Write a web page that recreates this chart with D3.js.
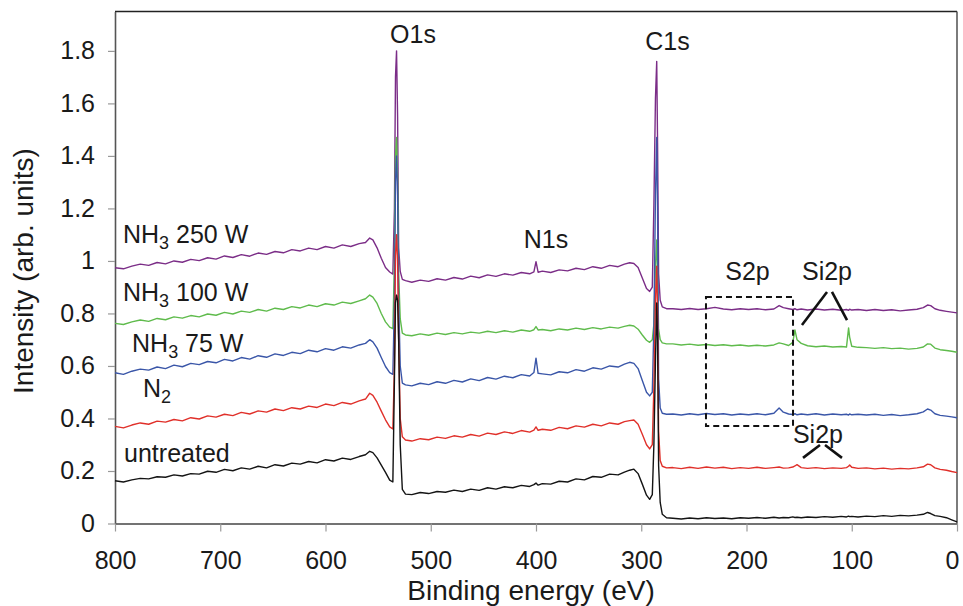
<!DOCTYPE html>
<html>
<head>
<meta charset="utf-8">
<script src="https://cdn.jsdelivr.net/npm/d3@7"></script>
<style>
  html, body { margin: 0; padding: 0; background: #fff; }
  svg { display: block; }
  text { font-family: "Liberation Sans", Arial, Helvetica, sans-serif; fill: #1a1a1a; }
</style>
</head>
<body>
<svg id="chart" width="963" height="606"></svg>
<script>
// ---------------- DATA ----------------
const energy = [
  800,792,784,776,768,760,752,744,736,728,
  720,712,704,696,688,680,672,664,656,648,
  640,632,624,616,608,600,592,584,576,568,
  562,558,555,551,547,543,539,536,534.5,533.5,
  532.5,531.5,530.5,529,527,524,518,510,502,494,
  486,478,470,462,454,446,438,430,422,414,
  406,402,400,398,394,386,378,370,362,354,
  346,338,330,322,316,311,307,303,299,295,
  292,289.5,288,286.5,285.3,284.5,283.5,282,280,276,
  270,262,254,246,238,230,222,214,206,198,
  190,182,174,169,165,160,156,154,152,148,
  142,134,126,118,110,105,103,102,100,94,
  86,78,70,62,54,46,38,32,28,25,
  21,16,10,5,0
];

const untreated = [
  0.163,0.158,0.166,0.172,0.170,0.178,0.176,0.185,0.181,0.190,
  0.188,0.199,0.195,0.206,0.201,0.212,0.207,0.218,0.212,0.224,
  0.219,0.230,0.226,0.236,0.231,0.243,0.238,0.249,0.244,0.255,
  0.262,0.275,0.270,0.250,0.222,0.195,0.165,0.158,0.55,0.84,
  0.87,0.85,0.70,0.30,0.13,0.112,0.110,0.118,0.114,0.122,
  0.119,0.127,0.122,0.131,0.126,0.136,0.131,0.140,0.136,0.145,
  0.141,0.148,0.154,0.146,0.152,0.150,0.161,0.158,0.170,0.166,
  0.179,0.176,0.188,0.185,0.196,0.203,0.207,0.190,0.150,0.108,
  0.092,0.110,0.30,0.62,0.84,0.70,0.22,0.08,0.035,0.022,
  0.020,0.017,0.021,0.018,0.022,0.019,0.021,0.018,0.022,0.020,
  0.023,0.020,0.024,0.021,0.023,0.022,0.025,0.023,0.024,0.022,
  0.025,0.023,0.026,0.024,0.027,0.025,0.028,0.026,0.027,0.025,
  0.028,0.026,0.030,0.027,0.031,0.029,0.032,0.035,0.042,0.038,
  0.030,0.027,0.022,0.014,0.006
];

const n2 = [
  0.370,0.364,0.375,0.383,0.378,0.390,0.386,0.396,0.391,0.403,
  0.398,0.410,0.405,0.416,0.411,0.423,0.417,0.429,0.424,0.436,
  0.430,0.441,0.436,0.447,0.442,0.455,0.449,0.461,0.455,0.467,
  0.474,0.496,0.488,0.462,0.428,0.395,0.368,0.360,0.60,1.02,
  1.10,1.00,0.70,0.40,0.33,0.318,0.314,0.323,0.319,0.329,
  0.324,0.334,0.329,0.339,0.333,0.344,0.339,0.349,0.343,0.354,
  0.348,0.356,0.368,0.355,0.359,0.355,0.366,0.361,0.372,0.367,
  0.378,0.372,0.383,0.378,0.388,0.392,0.394,0.378,0.340,0.300,
  0.284,0.300,0.52,0.85,0.98,0.80,0.35,0.24,0.218,0.212,
  0.213,0.209,0.214,0.210,0.215,0.211,0.214,0.209,0.213,0.210,
  0.214,0.210,0.213,0.215,0.211,0.212,0.215,0.219,0.224,0.213,
  0.210,0.213,0.209,0.212,0.210,0.213,0.218,0.223,0.214,0.210,
  0.212,0.208,0.211,0.207,0.210,0.208,0.212,0.216,0.226,0.224,
  0.212,0.206,0.203,0.198,0.194
];

const nh3_75 = [
  0.574,0.568,0.580,0.588,0.584,0.596,0.590,0.603,0.597,0.610,
  0.605,0.617,0.612,0.625,0.619,0.632,0.626,0.639,0.633,0.646,
  0.640,0.652,0.647,0.660,0.654,0.666,0.660,0.673,0.668,0.680,
  0.686,0.700,0.692,0.668,0.632,0.598,0.575,0.568,0.85,1.30,
  1.40,1.25,0.85,0.60,0.535,0.528,0.524,0.534,0.529,0.540,
  0.534,0.545,0.539,0.551,0.544,0.556,0.550,0.561,0.555,0.567,
  0.562,0.575,0.630,0.572,0.570,0.566,0.578,0.574,0.586,0.580,
  0.593,0.588,0.600,0.596,0.607,0.614,0.610,0.590,0.545,0.500,
  0.486,0.500,0.75,1.25,1.47,1.20,0.55,0.44,0.420,0.416,
  0.417,0.413,0.418,0.414,0.419,0.415,0.418,0.413,0.417,0.414,
  0.418,0.414,0.420,0.440,0.424,0.417,0.415,0.418,0.414,0.417,
  0.414,0.418,0.413,0.417,0.414,0.416,0.413,0.417,0.414,0.416,
  0.413,0.416,0.412,0.415,0.411,0.414,0.418,0.425,0.436,0.432,
  0.418,0.412,0.409,0.406,0.403
];

const nh3_100 = [
  0.762,0.758,0.768,0.775,0.770,0.781,0.776,0.787,0.782,0.792,
  0.787,0.798,0.793,0.804,0.798,0.809,0.804,0.815,0.809,0.820,
  0.815,0.826,0.821,0.832,0.826,0.837,0.832,0.843,0.838,0.848,
  0.856,0.870,0.862,0.838,0.800,0.768,0.748,0.742,1.00,1.40,
  1.47,1.32,0.95,0.78,0.725,0.718,0.715,0.722,0.717,0.725,
  0.720,0.727,0.722,0.729,0.725,0.732,0.727,0.734,0.729,0.737,
  0.732,0.738,0.750,0.737,0.739,0.734,0.741,0.737,0.744,0.739,
  0.746,0.741,0.748,0.744,0.751,0.755,0.752,0.740,0.718,0.698,
  0.690,0.700,0.76,0.98,1.08,0.95,0.74,0.70,0.688,0.684,
  0.684,0.680,0.683,0.679,0.682,0.678,0.681,0.677,0.680,0.676,
  0.679,0.676,0.680,0.688,0.684,0.678,0.690,0.737,0.700,0.686,
  0.677,0.673,0.676,0.672,0.674,0.672,0.745,0.710,0.675,0.671,
  0.670,0.667,0.670,0.666,0.668,0.664,0.667,0.672,0.684,0.683,
  0.668,0.662,0.659,0.656,0.652
];

const nh3_250 = [
  0.974,0.970,0.980,0.988,0.983,0.994,0.989,1.000,0.995,1.006,
  1.001,1.012,1.007,1.019,1.013,1.024,1.018,1.030,1.025,1.036,
  1.031,1.043,1.038,1.049,1.043,1.055,1.049,1.061,1.055,1.066,
  1.070,1.087,1.080,1.050,1.010,0.975,0.958,0.950,1.20,1.70,
  1.80,1.55,1.05,0.96,0.930,0.925,0.919,0.927,0.922,0.932,
  0.927,0.937,0.931,0.942,0.936,0.947,0.941,0.951,0.946,0.956,
  0.951,0.958,0.997,0.957,0.961,0.956,0.966,0.962,0.972,0.967,
  0.978,0.972,0.983,0.978,0.988,0.993,0.990,0.975,0.935,0.895,
  0.884,0.900,1.21,1.62,1.76,1.45,0.95,0.85,0.825,0.818,
  0.818,0.815,0.819,0.815,0.818,0.823,0.817,0.814,0.818,0.815,
  0.818,0.814,0.817,0.830,0.822,0.818,0.815,0.818,0.814,0.817,
  0.813,0.817,0.813,0.816,0.812,0.815,0.812,0.816,0.813,0.815,
  0.811,0.815,0.811,0.814,0.810,0.813,0.816,0.822,0.832,0.830,
  0.818,0.812,0.808,0.805,0.802
];

// draw order: first drawn is at the back
const seriesNames  = ["NH3 250 W", "NH3 100 W", "NH3 75 W", "N2", "untreated"];
const seriesValues = [nh3_250, nh3_100, nh3_75, n2, untreated];
const seriesColors = ["#7b2d87", "#5fbb4c", "#3a56a8", "#e0302a", "#141414"];

// series labels: [main, subscript, rest, energy position, intensity of baseline]
const labelParts = [
  ["NH", "3", " 250 W", 792.4, 1.069],
  ["NH", "3", " 100 W", 792.4, 0.848],
  ["NH", "3", " 75 W", 783.8, 0.653],
  ["N", "2", "", 773.4, 0.482],
  ["untreated", "", "", 791.4, 0.234]
];

// peak annotations [text, energy (center), intensity (baseline)]
const peakLabels = [
  ["O1s", 516.9, 1.830],
  ["C1s", 275.1, 1.804],
  ["N1s", 390.5, 1.050],
  ["S2p", 199.1, 0.928],
  ["Si2p", 123.5, 0.928],
  ["Si2p", 132.1, 0.307]
];
// pointer segments [E1, I1, E2, I2]
const pointerLines = [
  [123.5, 0.882, 147.3, 0.756],
  [118.8, 0.882, 104.5, 0.775],
  [130.2, 0.299, 146.3, 0.250],
  [125.4, 0.299, 109.3, 0.250]
];
// dashed S2p box [E left, E right, I top, I bottom]
const s2pBox = [238.5, 155.8, 0.863, 0.371];

const xTicks = [800, 700, 600, 500, 400, 300, 200, 100, 0];
const yTicks = [0, 0.2, 0.4, 0.6, 0.8, 1, 1.2, 1.4, 1.6, 1.8];
const xTitle = "Binding energy (eV)";
const yTitle = "Intensity (arb. units)";

// ---------------- CHART ----------------
const svg = d3.select("#chart");
svg.append("rect").attr("width", 963).attr("height", 606).attr("fill", "#fff");

const x = d3.scaleLinear().domain([800, 0]).range([115, 957]);
const y = d3.scaleLinear().domain([0, 1.95]).range([523.5, 11.5]);

// frame (top & right)
svg.append("line").attr("x1", x(800)).attr("x2", x(0)).attr("y1", y(1.95)).attr("y2", y(1.95))
  .attr("stroke", "#222").attr("stroke-width", 1.6);
svg.append("line").attr("x1", x(0)).attr("x2", x(0)).attr("y1", y(1.95)).attr("y2", y(0))
  .attr("stroke", "#444").attr("stroke-width", 1.4);

// axes
const yAxis = svg.append("g").attr("transform", `translate(${x(800)},0)`)
  .call(d3.axisLeft(y).tickValues(yTicks).tickSize(7).tickSizeOuter(0).tickPadding(13)
        .tickFormat(d3.format(".1~f")));
yAxis.select(".domain").attr("stroke", "#555").attr("stroke-width", 1.6);
yAxis.selectAll(".tick line").attr("stroke", "#999").attr("stroke-width", 1.2);
yAxis.selectAll(".tick text").attr("font-size", 25).attr("fill", "#1a1a1a")
  .attr("font-family", "Liberation Sans, Arial, sans-serif");

const xAxis = svg.append("g").attr("transform", `translate(0,${y(0)})`)
  .call(d3.axisBottom(x).tickValues(xTicks).tickSize(8).tickSizeOuter(0));
xAxis.select(".domain").attr("stroke", "#444").attr("stroke-width", 1.6);
xAxis.selectAll(".tick line").attr("stroke", "#999").attr("stroke-width", 1.2);
xAxis.selectAll(".tick text").attr("font-size", 25).attr("fill", "#1a1a1a")
  .attr("dy", null).attr("y", 45.5)
  .attr("dx", (d) => (d === 0 ? -5 : 0))
  .attr("font-family", "Liberation Sans, Arial, sans-serif");

// axis titles
svg.append("text").attr("x", 531).attr("y", 600).attr("text-anchor", "middle")
  .attr("font-size", 28).text(xTitle);
svg.append("text").attr("transform", "translate(33,271) rotate(-90)")
  .attr("text-anchor", "middle").attr("font-size", 28).text(yTitle);

// spectra
const line = d3.line().x((d) => x(d[0])).y((d) => y(d[1]));
seriesValues.forEach((vals, i) => {
  const pts = energy.map((e, j) => [e, vals[j]]);
  svg.append("path").datum(pts)
    .attr("d", line)
    .attr("fill", "none")
    .attr("stroke", seriesColors[i])
    .attr("stroke-width", 1.4)
    .attr("stroke-linejoin", "round")
    .attr("class", "series")
    .attr("data-name", seriesNames[i]);
});

// series labels
labelParts.forEach((p) => {
  const t = svg.append("text").attr("x", x(p[3])).attr("y", y(p[4])).attr("font-size", 25);
  t.append("tspan").text(p[0]);
  if (p[1]) {
    t.append("tspan").attr("dy", 6).attr("font-size", 18).text(p[1]);
    if (p[2]) t.append("tspan").attr("dy", -6).text(p[2]);
  }
});

// peak labels
peakLabels.forEach((p) => {
  svg.append("text").attr("x", x(p[1])).attr("y", y(p[2])).attr("text-anchor", "middle")
    .attr("font-size", 25).text(p[0]);
});

pointerLines.forEach((l) => {
  svg.append("line").attr("x1", x(l[0])).attr("y1", y(l[1])).attr("x2", x(l[2])).attr("y2", y(l[3]))
    .attr("stroke", "#111").attr("stroke-width", 2.6);
});

svg.append("rect")
  .attr("x", x(s2pBox[0])).attr("y", y(s2pBox[2]))
  .attr("width", x(s2pBox[1]) - x(s2pBox[0])).attr("height", y(s2pBox[3]) - y(s2pBox[2]))
  .attr("fill", "none").attr("stroke", "#111").attr("stroke-width", 2).attr("stroke-dasharray", "6,4");
</script>
</body>
</html>
